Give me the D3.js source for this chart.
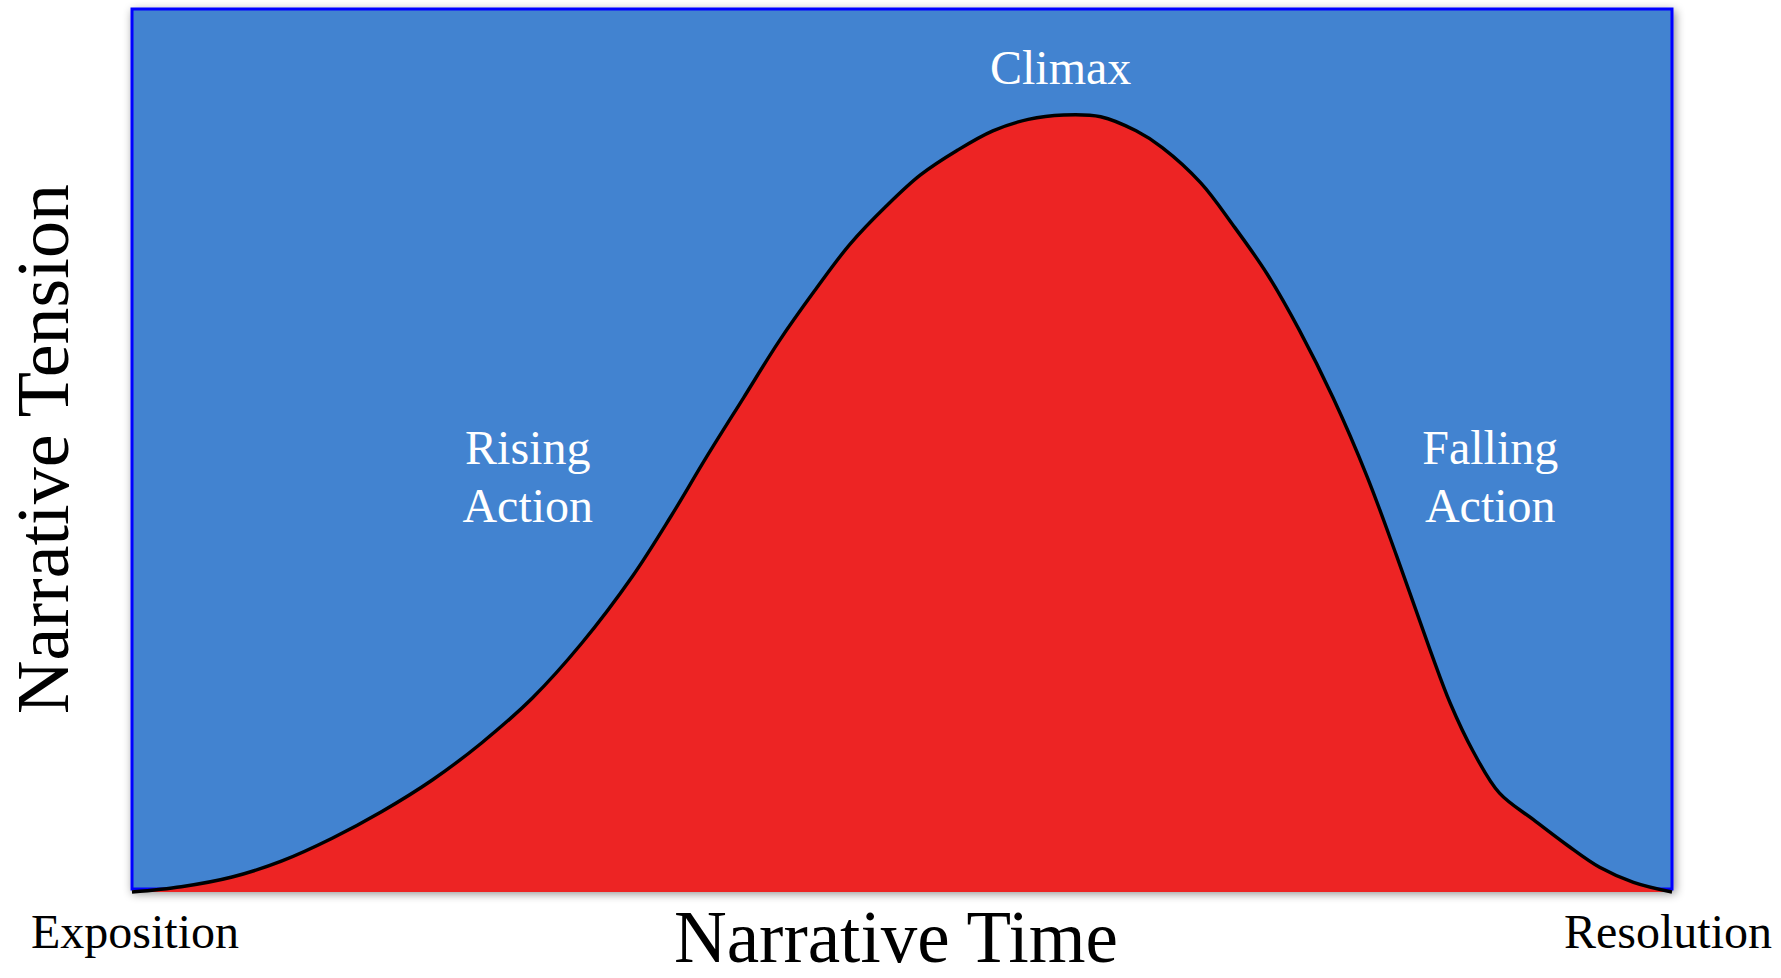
<!DOCTYPE html>
<html>
<head>
<meta charset="utf-8">
<title>Narrative Arc</title>
<script src="https://cdn.jsdelivr.net/npm/d3@7"></script>
<style>
  body { margin: 0; background: #ffffff; }
  svg { display: block; }
  .lbl { font-family: "Liberation Serif", "Times New Roman", serif; }
</style>
</head>
<body>
<script>
// narrative time (0-100) and tension (0-100)
var timeVals = [0, 3.2, 6.5, 9.7, 13.0, 16.2, 19.5, 22.7, 26.0, 29.2, 32.5, 35.0, 37.3, 39.7, 42.0,
    44.3, 46.6, 49.0, 51.2, 53.6, 55.9, 58.2, 60.5, 62.9, 65.2, 66.9, 69.4, 71.5, 73.7, 75.8,
    78.0, 80.2, 82.1, 84.3, 85.6, 87.1, 88.8, 91.0, 93.2, 95.3, 97.5, 100];
var tensionVals = [0, 0.6, 1.7, 3.5, 6.1, 9.1, 12.7, 16.9, 22.0, 28.2, 35.8, 42.6, 49.3, 56.0, 62.4,
    68.1, 73.4, 77.8, 81.3, 84.1, 86.3, 87.6, 88.1, 87.9, 86.3, 84.4, 80.4, 75.6, 70.1, 63.7,
    56.0, 47.1, 38.2, 27.4, 21.4, 15.9, 11.2, 8.2, 5.3, 2.8, 1.1, 0];

var phaseLabels = [
    { lines: ["Rising", "Action"], t: 25.7, v: 48.5 },
    { lines: ["Climax"], t: 60.3, v: 91.6 },
    { lines: ["Falling", "Action"], t: 88.2, v: 48.5 }
];
var xTitle = "Narrative Time";
var yTitle = "Narrative Tension";
var startLabel = "Exposition";
var endLabel = "Resolution";

var W = 1781, H = 978;
var svg = d3.select("body").append("svg")
    .attr("width", W)
    .attr("height", H);

var x = d3.scaleLinear().domain([0, 100]).range([132, 1672]);
var y = d3.scaleLinear().domain([0, 100]).range([892, 10]);

var defs = svg.append("defs");
var shadow = defs.append("filter").attr("id", "shadow")
    .attr("x", "-5%").attr("y", "-5%").attr("width", "110%").attr("height", "112%");
shadow.append("feDropShadow")
    .attr("dx", 2).attr("dy", 3).attr("stdDeviation", 5)
    .attr("flood-color", "#000").attr("flood-opacity", 0.45);

var pts = timeVals.map(function(t, i) { return { t: t, v: tensionVals[i] }; });

// background box
svg.append("rect")
    .attr("x", x(0))
    .attr("y", y(100) - 1)
    .attr("width", x(100) - x(0))
    .attr("height", y(0) - y(100) - 2)
    .attr("fill", "#4283d0")
    .attr("stroke", "#0000ff")
    .attr("stroke-width", 3)
    .attr("filter", "url(#shadow)");

var smooth = d3.curveCatmullRom.alpha(0.5);

var area = d3.area()
    .x(function(d) { return x(d.t); })
    .y0(y(0))
    .y1(function(d) { return y(d.v); })
    .curve(smooth);

var line = d3.line()
    .x(function(d) { return x(d.t); })
    .y(function(d) { return y(d.v); })
    .curve(smooth);

svg.append("path")
    .datum(pts)
    .attr("d", area)
    .attr("fill", "#ed2424");

svg.append("path")
    .datum(pts)
    .attr("d", line)
    .attr("fill", "none")
    .attr("stroke", "#000")
    .attr("stroke-width", 3.4);

// phase labels inside the box
phaseLabels.forEach(function(p) {
    var txt = svg.append("text")
        .attr("class", "lbl")
        .attr("text-anchor", "middle")
        .attr("fill", "#fff")
        .attr("font-size", 48)
        .attr("x", x(p.t))
        .attr("y", y(p.v));
    p.lines.forEach(function(s, i) {
        txt.append("tspan")
            .attr("x", x(p.t))
            .attr("dy", i === 0 ? 0 : 58)
            .text(s);
    });
});

// end labels
svg.append("text").attr("class", "lbl")
    .attr("x", 31).attr("y", 948)
    .attr("font-size", 48)
    .text(startLabel);

svg.append("text").attr("class", "lbl")
    .attr("x", 1772).attr("y", 948)
    .attr("text-anchor", "end")
    .attr("font-size", 48)
    .text(endLabel);

// axis titles
svg.append("text").attr("class", "lbl")
    .attr("x", 896).attr("y", 962)
    .attr("text-anchor", "middle")
    .attr("font-size", 73)
    .text(xTitle);

svg.append("text").attr("class", "lbl")
    .attr("transform", "translate(68,449) rotate(-90)")
    .attr("text-anchor", "middle")
    .attr("font-size", 74)
    .text(yTitle);
</script>
</body>
</html>
